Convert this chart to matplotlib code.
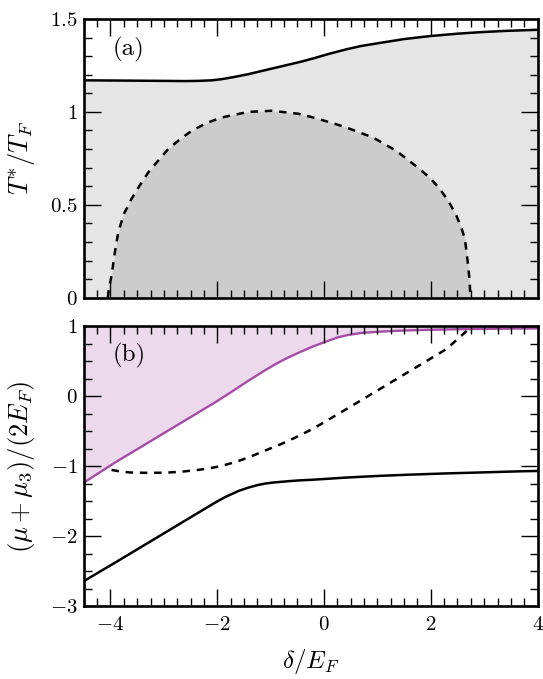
import numpy as np
import matplotlib
matplotlib.use("Agg")
import matplotlib.pyplot as plt
from matplotlib.ticker import MultipleLocator, FuncFormatter

plt.rcParams["mathtext.fontset"] = "cm"
plt.rcParams["font.family"] = "serif"
plt.rcParams["font.serif"] = ["cmr10", "DejaVu Serif"]
plt.rcParams["axes.unicode_minus"] = True

# %%
# Panel (a): crossover temperatures
x_a_solid = [-4.5, -4, -3.5, -3, -2.6, -2.35, -2.1, -1.92, -1.7, -1.42, -1.2, -0.92,
             -0.67, -0.42, -0.2, 0.1, 0.42, 0.7, 1.04, 1.5, 1.98, 2.5, 2.92, 3.4, 4]
T_solid = [1.170, 1.169, 1.168, 1.167, 1.166, 1.167, 1.170, 1.176, 1.187, 1.203, 1.218,
           1.237, 1.254, 1.271, 1.288, 1.313, 1.337, 1.355, 1.371, 1.392, 1.408,
           1.421, 1.429, 1.436, 1.442]

x_a_dash = [-4.05, -4.03, -3.98, -3.92, -3.855, -3.75, -3.61, -3.45, -3.293, -3.1,
            -2.918, -2.7, -2.48, -2.2, -1.918, -1.418, -0.98, -0.48, -0.206, 0.1,
            0.419, 0.919, 1.356, 1.794, 2.0, 2.17, 2.33, 2.48, 2.58, 2.64, 2.70,
            2.73, 2.74]
T_dash = [0.0, 0.05, 0.118, 0.24, 0.351, 0.45, 0.53, 0.605, 0.674, 0.740,
          0.800, 0.852, 0.898, 0.940, 0.970, 1.000, 1.006, 0.990, 0.970, 0.945,
          0.916, 0.862, 0.790, 0.692, 0.640, 0.585, 0.520, 0.441, 0.37, 0.315,
          0.172, 0.08, 0.0]

# Panel (b): chemical potentials
x_b_purple = [-4.5, -3.918, -3.293, -2.668, -2.043, -1.73, -1.418, -1.105, -0.95, -0.8,
              -0.63, -0.456, -0.2, 0.1, 0.25, 0.419, 0.7, 1.044, 1.5, 1.98, 2.7, 3.54, 4]
mu_purple = [-1.232, -0.946, -0.660, -0.373, -0.087, 0.066, 0.223, 0.372, 0.442, 0.505,
             0.570, 0.630, 0.715, 0.800, 0.840, 0.872, 0.906, 0.924, 0.940, 0.951,
             0.961, 0.968, 0.970]

x_b_dash = [-3.98, -3.8, -3.605, -3.3, -2.98, -2.66, -2.355, -2.1, -1.918, -1.65,
            -1.418, -1.2, -1.043, -0.8, -0.543, -0.206, 0.419, 1.044, 1.67, 2.294, 2.70]
mu_dash = [-1.05, -1.075, -1.088, -1.092, -1.090, -1.075, -1.05, -1.020, -0.993, -0.935,
           -0.873, -0.805, -0.755, -0.68, -0.590, -0.462, -0.182, 0.104, 0.390, 0.676, 0.953]

x_b_solid = [-4.5, -3.918, -3.293, -2.668, -2.043, -1.85, -1.6, -1.418, -1.25, -1.105,
             -0.95, -0.8, -0.6, -0.418, -0.206, 0.1, 0.4, 1.044, 1.6, 2.29, 3.0, 3.67, 4]
mu_solid = [-2.638, -2.376, -2.090, -1.804, -1.518, -1.437, -1.350, -1.303, -1.268, -1.245,
            -1.230, -1.220, -1.207, -1.198, -1.190, -1.175, -1.160, -1.135, -1.118,
            -1.100, -1.085, -1.070, -1.065]

# %%
fig = plt.figure(figsize=(5.43, 6.79), dpi=100)
ax1 = fig.add_axes([0.1543, 0.5616, 0.8357, 0.4104])
ax2 = fig.add_axes([0.1543, 0.1068, 0.8357, 0.4126], sharex=ax1)

dash = (0, (3, 2.7))
fmt = FuncFormatter(lambda v, pos: f"${v:g}$")

ax1.fill_between(x_a_solid, 0, T_solid, color="#e5e5e5", lw=0)
ax1.fill_between(x_a_dash, 0, T_dash, color="#cccccc", lw=0)
ax1.plot(x_a_solid, T_solid, color="black", lw=1.8)
ax1.plot(x_a_dash, T_dash, color="black", lw=1.8, linestyle=dash)
ax1.set_ylim(0, 1.5)
ax1.yaxis.set_major_locator(MultipleLocator(0.5))
ax1.yaxis.set_minor_locator(MultipleLocator(0.1))
ax1.set_ylabel(r"$T^{*}/T_F$", fontsize=19)
ax1.text(0.064, 0.892, "(a)", transform=ax1.transAxes, fontsize=18, va="center")

ax2.fill_between(x_b_purple, mu_purple, 1, color="#ecd9ec", lw=0)
ax2.plot(x_b_purple, mu_purple, color="#a64ca6", lw=1.7)
ax2.plot(x_b_dash, mu_dash, color="black", lw=1.8, linestyle=dash)
ax2.plot(x_b_solid, mu_solid, color="black", lw=1.8)
ax2.set_ylim(-3, 1)
ax2.yaxis.set_major_locator(MultipleLocator(1))
ax2.yaxis.set_minor_locator(MultipleLocator(0.25))
ax2.set_ylabel(r"$(\mu+\mu_3)/(2E_F)$", fontsize=19)
ax2.set_xlabel(r"$\delta/E_F$", fontsize=18)
ax2.text(0.064, 0.896, "(b)", transform=ax2.transAxes, fontsize=18, va="center")

ax2.set_xlim(-4.5, 4)
ax2.xaxis.set_major_locator(MultipleLocator(2))
ax2.xaxis.set_minor_locator(MultipleLocator(0.25))

for ax in (ax1, ax2):
    ax.xaxis.set_major_formatter(fmt)
    ax.yaxis.set_major_formatter(fmt)
    ax.tick_params(which="both", direction="in", top=True, right=True, labelsize=15, width=1.0)
    ax.tick_params(which="major", length=12)
    ax.tick_params(which="minor", length=6)
    ax.tick_params(axis="y", pad=4.5)
    ax.tick_params(axis="x", pad=7)
    for s in ax.spines.values():
        s.set_linewidth(1.9)
    ax.set_axisbelow(False)
ax1.yaxis.set_label_coords(-0.103, 0.5)
ax2.yaxis.set_label_coords(-0.103, 0.5)
ax2.xaxis.set_label_coords(0.5, -0.145)
plt.setp(ax1.get_xticklabels(), visible=False)

fig.savefig("out.png", dpi=100)
